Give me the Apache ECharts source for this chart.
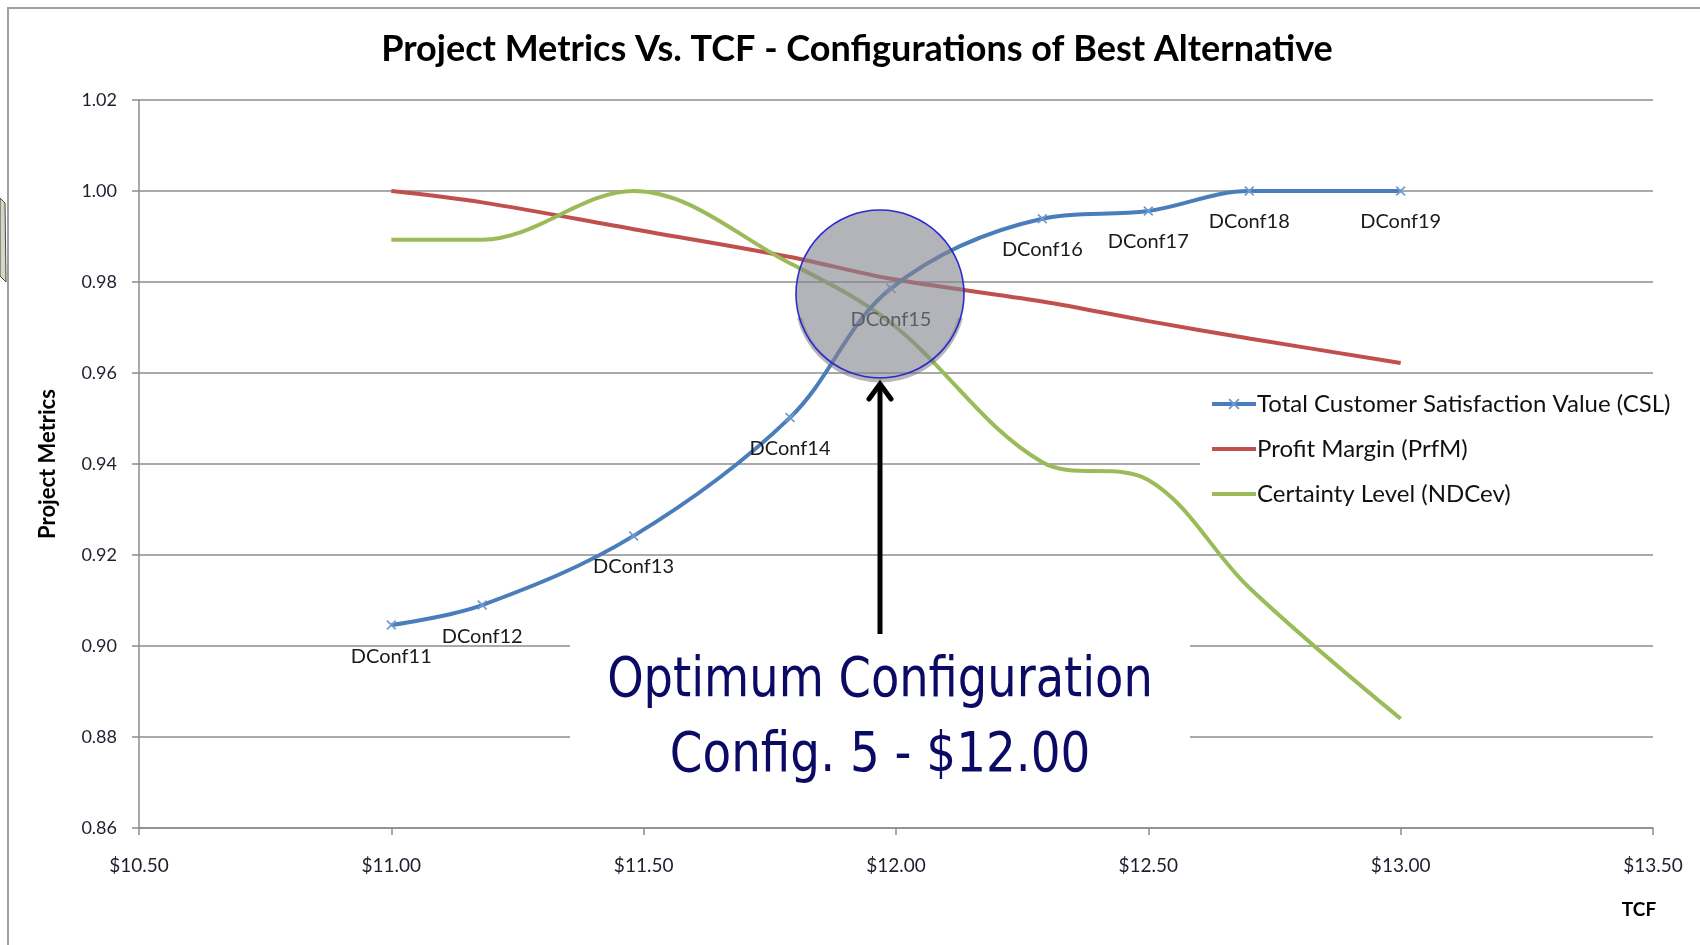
<!DOCTYPE html>
<html>
<head>
<meta charset="utf-8">
<script src="https://cdn.jsdelivr.net/npm/echarts@6/dist/echarts.min.js"></script>
<style>
  html, body { margin: 0; padding: 0; background: #fff; }
  #chart { width: 1700px; height: 945px; }
</style>
</head>
<body>
<div id="chart"></div>
<script>
// ---- data ----
const configNames = ['DConf11','DConf12','DConf13','DConf14','DConf15','DConf16','DConf17','DConf18','DConf19'];
const tcf   = [11.00, 11.18, 11.48, 11.79, 11.99, 12.29, 12.50, 12.70, 13.00];
const csl   = [0.9046, 0.9090, 0.9242, 0.9502, 0.9786, 0.9939, 0.9956, 1.0000, 1.0000];
const prfm  = [1.0000, 0.9975, 0.9916, 0.9855, 0.9807, 0.9757, 0.9714, 0.9676, 0.9622];
const ndcev = [0.9893, 0.9893, 1.0000, 0.9841, 0.9710, 0.9404, 0.9365, 0.9128, 0.8840];
const seriesNames = ['Total Customer Satisfaction Value (CSL)', 'Profit Margin (PrfM)', 'Certainty Level (NDCev)'];
const xTicks = { min: 10.5, max: 13.5, interval: 0.5 };
const yTicks = { min: 0.86, max: 1.02, interval: 0.02 };
const chartTitle = 'Project Metrics Vs. TCF - Configurations of Best Alternative';
const noteLines = ['Optimum Configuration', 'Config. 5 - $12.00'];

const pairs = ys => tcf.map((x, i) => [x, ys[i]]);
const xMark = 'path://M0,1.2 L1.2,0 L5,3.8 L8.8,0 L10,1.2 L6.2,5 L10,8.8 L8.8,10 L5,6.2 L1.2,10 L0,8.8 L3.8,5 Z';
const F = 'Lato, "Open Sans", sans-serif';
const NOTE_F = '"DejaVu Sans Condensed", "DejaVu Sans", sans-serif';

const chart = echarts.init(document.getElementById('chart'), null, { renderer: 'canvas' });
chart.setOption({
  animation: false,
  backgroundColor: '#fff',
  title: {
    text: chartTitle, left: 857, top: 31, padding: 0, textAlign: 'center',
    textStyle: { fontFamily: F, fontWeight: 'bold', fontSize: 36, color: '#000' }
  },
  grid: { left: 139, right: 47, top: 100, bottom: 117 },
  legend: {
    orient: 'vertical', left: 1200, top: 384, padding: [8, 14, 8, 10],
    backgroundColor: '#fff', itemWidth: 44, itemHeight: 14, itemGap: 21,
    align: 'left',
    lineStyle: { width: 4 },
    textStyle: { fontFamily: F, fontSize: 24, lineHeight: 24, color: '#111', padding: [0, 0, 0, -4] },
    data: [
      { name: seriesNames[0] },
      { name: seriesNames[1], itemStyle: { opacity: 0 } },
      { name: seriesNames[2], itemStyle: { opacity: 0 } }
    ]
  },
  xAxis: {
    type: 'value', min: xTicks.min, max: xTicks.max, interval: xTicks.interval,
    axisLine: { show: true, lineStyle: { color: '#8c8c8c', width: 1.5 } },
    axisTick: { show: true, length: 7, lineStyle: { color: '#8c8c8c', width: 1.5 } },
    splitLine: { show: false },
    axisLabel: { margin: 28, fontFamily: F, fontSize: 19, color: '#1e1e2e',
      formatter: v => '$' + v.toFixed(2) }
  },
  yAxis: {
    type: 'value', min: yTicks.min, max: yTicks.max, interval: yTicks.interval,
    name: 'Project Metrics', nameLocation: 'middle', nameGap: 80, nameRotate: 90,
    nameTextStyle: { fontFamily: F, fontWeight: 'bold', fontSize: 22, color: '#000' },
    axisLine: { show: true, lineStyle: { color: '#8c8c8c', width: 1.5 } },
    axisTick: { show: true, inside: false, length: 7, lineStyle: { color: '#8c8c8c', width: 1.5 } },
    splitLine: { show: true, lineStyle: { color: '#8c8c8c', width: 1.5 } },
    axisLabel: { margin: 22, fontFamily: F, fontSize: 18, color: '#1e1e2e',
      formatter: v => v.toFixed(2) }
  },
  series: [
    {
      name: seriesNames[0], type: 'line', data: pairs(csl), smooth: 0.35,
      symbol: xMark, symbolSize: 10, showSymbol: true,
      lineStyle: { color: '#4a7ebb', width: 4 },
      itemStyle: { color: '#6f9bd3' },
      label: { show: true, position: 'bottom', distance: 16, fontFamily: F, fontSize: 20, color: '#1a1a1a',
        formatter: p => configNames[p.dataIndex] },
      z: 3
    },
    {
      name: seriesNames[1], type: 'line', data: pairs(prfm), smooth: 0.35,
      symbol: 'none', lineStyle: { color: '#c0504d', width: 4 }, itemStyle: { color: '#c0504d' }, z: 2
    },
    {
      name: seriesNames[2], type: 'line', data: pairs(ndcev), smooth: 0.35,
      symbol: 'none', lineStyle: { color: '#9bbb59', width: 4 }, itemStyle: { color: '#9bbb59' }, z: 2
    }
  ],
  graphic: [
    // outer frame of the chart object
    { type: 'line', shape: { x1: 7, y1: 8, x2: 1700, y2: 8 }, style: { stroke: '#a0a0a0', lineWidth: 2 }, z: 100 },
    { type: 'line', shape: { x1: 8, y1: 8, x2: 8, y2: 945 }, style: { stroke: '#a0a0a0', lineWidth: 2 }, z: 100 },
    { type: 'polygon', shape: { points: [[0, 198], [5, 203], [6, 282], [0, 276]] }, style: { fill: '#d6d6c6', stroke: '#444', lineWidth: 1 }, z: 100 },
    // white text box behind the annotation
    { type: 'rect', shape: { x: 570, y: 592, width: 620, height: 200 }, style: { fill: '#fff' }, z: 1 },
    // highlight circle
    { type: 'arc', shape: { cx: 880, cy: 297, r: 83, startAngle: 0.25, endAngle: Math.PI - 0.25 },
      style: { stroke: 'rgba(110,110,110,0.5)', lineWidth: 5, fill: null }, z: 99 },
    { type: 'circle', shape: { cx: 880, cy: 294, r: 84 },
      style: { fill: 'rgba(132,132,144,0.62)', stroke: '#2a2ad0', lineWidth: 1.6 }, z: 100 },
    // arrow
    { type: 'line', shape: { x1: 880, y1: 634, x2: 880, y2: 384 }, style: { stroke: '#000', lineWidth: 5 }, z: 100 },
    { type: 'polyline', shape: { points: [[869, 399], [880, 384], [891, 399]] },
      style: { stroke: '#000', lineWidth: 5, fill: null, lineJoin: 'miter', lineCap: 'round' }, z: 100 },
    // annotation text
    { type: 'text', x: 880, y: 681, scaleX: 0.92, z: 100,
      style: { text: noteLines[0], fontFamily: NOTE_F, fontSize: 56,
        fill: '#0b0b66', align: 'center', verticalAlign: 'middle' } },
    { type: 'text', x: 880, y: 756, scaleX: 0.93, z: 100,
      style: { text: noteLines[1], fontFamily: NOTE_F, fontSize: 56,
        fill: '#0b0b66', align: 'center', verticalAlign: 'middle' } },
    // x axis title
    { type: 'text', x: 1639, y: 910, z: 100,
      style: { text: 'TCF', fontFamily: F, fontWeight: 'bold', fontSize: 19, fill: '#000', align: 'center', verticalAlign: 'middle' } }
  ]
});
</script>
</body>
</html>
